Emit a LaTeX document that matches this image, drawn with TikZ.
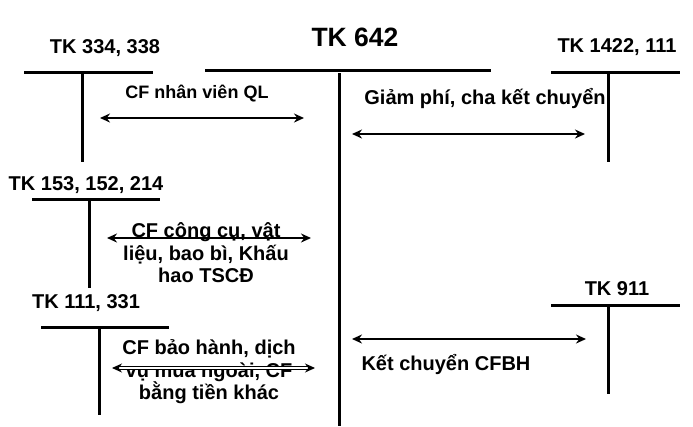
\documentclass[tikz,border=0pt]{standalone}
\usepackage{fontspec}
\setmainfont{Liberation Sans}
\usetikzlibrary{arrows.meta}
\begin{document}
\begin{tikzpicture}[x=1pt,y=-1pt,
    tline/.style={line width=3pt},
    arr/.style={line width=2.8pt,{Stealth[length=10pt,width=9pt]}-{Stealth[length=10pt,width=9pt]}},
    tk/.style={font=\fontsize{20}{22}\selectfont\bfseries,inner sep=0pt},
    lbl/.style={font=\fontsize{20}{22.5}\selectfont\bfseries,inner sep=0pt,align=center}]
    \useasboundingbox (0,0) rectangle (693,426);

    % account titles
    \node[tk] (tk334) at (105,48) {TK 334, 338};
    \node[tk,font=\fontsize{26.5}{28}\selectfont\bfseries] (tk642) at (355,37) {TK 642};
    \node[tk] (tk1422) at (617,47) {TK 1422, 111};
    \node[tk] (tk153) at (86,185) {TK 153, 152, 214};
    \node[tk] (tk111) at (86,303) {TK 111, 331};
    \node[tk] (tk911) at (617,289) {TK 911};

    % T accounts
    \draw[tline] (24,72) -- (153,72) (82,72) -- (82,162);
    \draw[tline] (205,70) -- (491,70) (339,73) -- (339,426);
    \draw[tline] (551,72) -- (680,72) (608,72) -- (608,162);
    \draw[tline] (32,199) -- (160,199) (89,199) -- (89,288);
    \draw[tline] (41,327) -- (169,327) (99,327) -- (99,415);
    \draw[tline] (551,305) -- (680,305) (608,305) -- (608,394);

    % arrow ends
    \coordinate (a1) at (100,118); \coordinate (a2) at (304,118);
    \coordinate (b1) at (352,134); \coordinate (b2) at (585,134);
    \coordinate (c1) at (107,238); \coordinate (c2) at (311,238);
    \coordinate (d1) at (112,368); \coordinate (d2) at (315,368);
    \coordinate (e1) at (352,339); \coordinate (e2) at (586,339);

    % texts
    \node[lbl,font=\fontsize{18}{22}\selectfont\bfseries] (nvql) at (197,94) {CF nhân viên QL};
    \node[lbl] (giam) at (485,99) {Giảm phí, cha kết chuyển};
    \node[lbl] (ccvl) at (206,253) {CF công cụ, vật\\liệu, bao bì, Khấu\\hao TSCĐ};
    \node[lbl] (bhdv) at (209,372) {CF bảo hành, dịch\\vụ mua ngoài, CF\\bằng tiền khác};
    \node[lbl] (kcbh) at (446,364) {Kết chuyển CFBH};

    \draw[arr] (a1) -- (a2);
    \draw[arr] (b1) -- (b2);
    \draw[arr] (c1) -- (c2);
    \draw[arr,line width=1pt,double,double distance=1.4pt] (d1) -- (d2);
    \draw[arr] (e1) -- (e2);
\end{tikzpicture}
\end{document}
